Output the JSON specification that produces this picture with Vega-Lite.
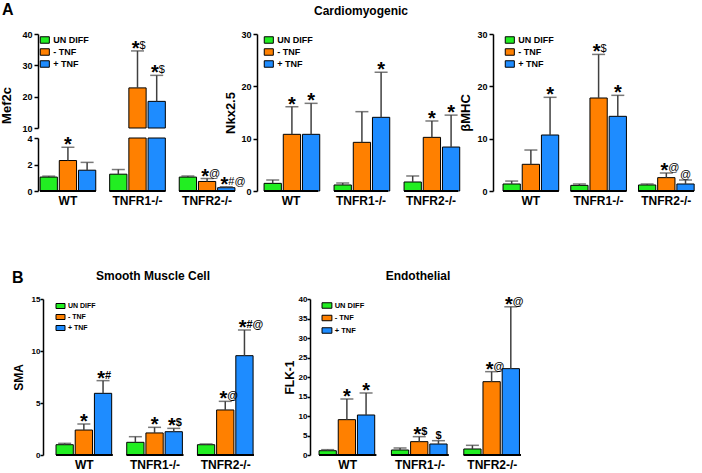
{
"$schema":"https://vega.github.io/schema/vega-lite/v6.json",
"padding":{"left":0,"top":1,"right":0,"bottom":0},
"config":{
 "font":"Liberation Sans",
 "view":{"stroke":null},
 "axis":{"grid":false,"labelFontWeight":"bold","labelColor":"black","titleFontWeight":"bold","titleColor":"black","domainColor":"black","tickColor":"black","labelFont":"Liberation Sans","titleFont":"Liberation Sans"},
 "axisY":{"domainWidth":1.5,"tickWidth":1.5,"tickSize":4,"labelPadding":2,"titlePadding":4,"labelFontSize":9,"titleFontSize":13,"labelOverlap":false},
 "axisX":{"domain":false,"ticks":false,"labelFontSize":12,"labelAngle":0,"labelPadding":4,"title":null},
 "legend":{"symbolType":"M-1.4,-1H1.4V1H-1.4Z","symbolStrokeColor":"black","symbolStrokeWidth":1,"symbolOpacity":1,"labelFontWeight":"bold","labelFont":"Liberation Sans","labelColor":"black","padding":0,"labelOffset":4},
 "title":{"fontWeight":"bold","fontSize":12,"color":"black","font":"Liberation Sans","baseline":"alphabetic"}
},
"datasets":{
 "mef2c":[
  {"group":"WT","cond":"UN DIFF","value":1.05,"err":1.12,"star":"","sym":""},
  {"group":"WT","cond":"- TNF","value":2.3,"err":3.3,"star":"*","sym":""},
  {"group":"WT","cond":"+ TNF","value":1.57,"err":2.16,"star":"","sym":""},
  {"group":"TNFR1-/-","cond":"UN DIFF","value":1.27,"err":1.62,"star":"","sym":""},
  {"group":"TNFR1-/-","cond":"- TNF","value":22.8,"err":34.6,"star":"*","sym":"$"},
  {"group":"TNFR1-/-","cond":"+ TNF","value":18.5,"err":26.8,"star":"*","sym":"$"},
  {"group":"TNFR2-/-","cond":"UN DIFF","value":1.05,"err":1.13,"star":"","sym":""},
  {"group":"TNFR2-/-","cond":"- TNF","value":0.72,"err":0.94,"star":"*","sym":"@"},
  {"group":"TNFR2-/-","cond":"+ TNF","value":0.25,"err":0.32,"star":"*","sym":"#@"}
 ],
 "nkx":[
  {"group":"WT","cond":"UN DIFF","value":1.46,"err":2.1,"star":"","sym":""},
  {"group":"WT","cond":"- TNF","value":10.83,"err":16.1,"star":"*","sym":""},
  {"group":"WT","cond":"+ TNF","value":10.83,"err":16.75,"star":"*","sym":""},
  {"group":"TNFR1-/-","cond":"UN DIFF","value":1.15,"err":1.53,"star":"","sym":""},
  {"group":"TNFR1-/-","cond":"- TNF","value":9.3,"err":15.16,"star":"","sym":""},
  {"group":"TNFR1-/-","cond":"+ TNF","value":14.08,"err":22.7,"star":"*","sym":""},
  {"group":"TNFR2-/-","cond":"UN DIFF","value":1.72,"err":2.87,"star":"","sym":""},
  {"group":"TNFR2-/-","cond":"- TNF","value":10.25,"err":13.38,"star":"*","sym":""},
  {"group":"TNFR2-/-","cond":"+ TNF","value":8.4,"err":14.5,"star":"*","sym":""}
 ],
 "bmhc":[
  {"group":"WT","cond":"UN DIFF","value":1.34,"err":1.9,"star":"","sym":""},
  {"group":"WT","cond":"- TNF","value":5.1,"err":7.83,"star":"","sym":""},
  {"group":"WT","cond":"+ TNF","value":10.7,"err":17.9,"star":"*","sym":""},
  {"group":"TNFR1-/-","cond":"UN DIFF","value":1.08,"err":1.34,"star":"","sym":""},
  {"group":"TNFR1-/-","cond":"- TNF","value":17.77,"err":26.1,"star":"*","sym":"$"},
  {"group":"TNFR1-/-","cond":"+ TNF","value":14.27,"err":18.28,"star":"*","sym":""},
  {"group":"TNFR2-/-","cond":"UN DIFF","value":1.15,"err":1.34,"star":"","sym":""},
  {"group":"TNFR2-/-","cond":"- TNF","value":2.55,"err":3.44,"star":"*","sym":"@"},
  {"group":"TNFR2-/-","cond":"+ TNF","value":1.34,"err":2.1,"star":"","sym":"@"}
 ],
 "sma":[
  {"group":"WT","cond":"UN DIFF","value":0.99,"err":1.12,"star":"","sym":""},
  {"group":"WT","cond":"- TNF","value":2.4,"err":2.98,"star":"*","sym":""},
  {"group":"WT","cond":"+ TNF","value":5.93,"err":7.15,"star":"*","sym":"#"},
  {"group":"TNFR1-/-","cond":"UN DIFF","value":1.22,"err":1.76,"star":"","sym":""},
  {"group":"TNFR1-/-","cond":"- TNF","value":2.12,"err":2.66,"star":"*","sym":""},
  {"group":"TNFR1-/-","cond":"+ TNF","value":2.24,"err":2.56,"star":"*","sym":"$"},
  {"group":"TNFR2-/-","cond":"UN DIFF","value":0.99,"err":1.06,"star":"","sym":""},
  {"group":"TNFR2-/-","cond":"- TNF","value":4.33,"err":5.16,"star":"*","sym":"@"},
  {"group":"TNFR2-/-","cond":"+ TNF","value":9.55,"err":12.02,"star":"*","sym":"#@"}
 ],
 "flk":[
  {"group":"WT","cond":"UN DIFF","value":1.1,"err":1.37,"star":"","sym":""},
  {"group":"WT","cond":"- TNF","value":9.06,"err":14.36,"star":"*","sym":""},
  {"group":"WT","cond":"+ TNF","value":10.26,"err":15.9,"star":"*","sym":""},
  {"group":"TNFR1-/-","cond":"UN DIFF","value":1.28,"err":1.8,"star":"","sym":""},
  {"group":"TNFR1-/-","cond":"- TNF","value":3.42,"err":4.7,"star":"*","sym":"$"},
  {"group":"TNFR1-/-","cond":"+ TNF","value":2.82,"err":3.67,"star":"","sym":"$"},
  {"group":"TNFR2-/-","cond":"UN DIFF","value":1.54,"err":2.48,"star":"","sym":""},
  {"group":"TNFR2-/-","cond":"- TNF","value":18.8,"err":21.37,"star":"*","sym":"@"},
  {"group":"TNFR2-/-","cond":"+ TNF","value":22.14,"err":38.0,"star":"*","sym":"@"}
 ]
},
"spacing":63,
"resolve":{"scale":{"color":"independent"},"legend":{"color":"independent"}},
"vconcat":[
{
 "bounds":"flush",
 "spacing":20,
 "resolve":{"scale":{"color":"independent"},"legend":{"color":"independent"}},
 "hconcat":[
 {
  "width":199,"height":157,
  "title":{"text":"A","anchor":"start","frame":"bounds","fontSize":16,"offset":12.5,"dx":1},
  "data":{"name":"mef2c"},
  "resolve":{"scale":{"y":"independent"},"axis":{"y":"independent"}},
  "layer":[
   {"layer":[
     {"mark":{"type":"bar","stroke":"black","strokeWidth":1},
      "encoding":{
       "x":{"field":"group","type":"nominal","sort":null,"title":null,"scale":{"domain":["WT","TNFR1-/-","TNFR2-/-"],"paddingInner":0.2,"paddingOuter":0.03,"align":0.5}},
       "xOffset":{"field":"cond","type":"nominal","scale":{"domain":["UN DIFF","- TNF","+ TNF"],"paddingInner":0.1,"paddingOuter":0}},
       "y":{"field":"value","type":"quantitative","scale":{"domain":[0,4],"range":[157,104],"clamp":true,"nice":false},"axis":{"title":null,"values":[0,2,4],"orient":"left"}},
       "color":{"field":"cond","type":"nominal","scale":{"domain":["UN DIFF","- TNF","+ TNF"],"range":["#22EE22","#FF8000","#1E8CFF"]},"legend":{"orient":"none","legendX":2.3,"legendY":1.5,"title":null,"labelFontSize":9,"symbolSize":42,"rowPadding":1}}
      }},
     {"mark":{"type":"rect","fill":"transparent","stroke":"black","strokeWidth":1.5},
      "encoding":{
       "x":{"field":"group","type":"nominal","sort":null,"title":null,"scale":{"domain":["WT","TNFR1-/-","TNFR2-/-"],"paddingInner":0.2,"paddingOuter":0.03,"align":0.5}},
       "y":{"datum":0,"type":"quantitative"},
       "y2":{"datum":0}
      }},
     {"transform":[{"filter":"datum.value < 4"}],
      "mark":{"type":"rule","color":"#404040","strokeWidth":1.5},
      "encoding":{
       "x":{"field":"group","type":"nominal","sort":null,"title":null,"scale":{"domain":["WT","TNFR1-/-","TNFR2-/-"],"paddingInner":0.2,"paddingOuter":0.03,"align":0.5}},
       "xOffset":{"field":"cond","type":"nominal","scale":{"domain":["UN DIFF","- TNF","+ TNF"],"paddingInner":0.1,"paddingOuter":0}},
       "y":{"field":"value","type":"quantitative"},
       "y2":{"field":"err"}
      }},
     {"transform":[{"filter":"datum.value < 4"}],
      "mark":{"type":"tick","color":"#404040","thickness":1.5,"size":13,"orient":"horizontal"},
      "encoding":{
       "x":{"field":"group","type":"nominal","sort":null,"title":null,"scale":{"domain":["WT","TNFR1-/-","TNFR2-/-"],"paddingInner":0.2,"paddingOuter":0.03,"align":0.5}},
       "xOffset":{"field":"cond","type":"nominal","scale":{"domain":["UN DIFF","- TNF","+ TNF"],"paddingInner":0.1,"paddingOuter":0}},
       "y":{"field":"err","type":"quantitative","title":null}
      }},
     {"transform":[{"filter":"datum.value < 4 && datum.star != '' && datum.sym == ''"}],
      "mark":{"type":"text","fontSize":20,"fontWeight":"bold","baseline":"alphabetic","align":"center","dy":4,"color":"black"},
      "encoding":{
       "x":{"field":"group","type":"nominal","sort":null,"title":null,"scale":{"domain":["WT","TNFR1-/-","TNFR2-/-"],"paddingInner":0.2,"paddingOuter":0.03,"align":0.5}},
       "xOffset":{"field":"cond","type":"nominal","scale":{"domain":["UN DIFF","- TNF","+ TNF"],"paddingInner":0.1,"paddingOuter":0}},
       "y":{"field":"err","type":"quantitative","title":null},
       "text":{"field":"star"}
      }},
     {"transform":[{"filter":"datum.value < 4 && datum.star != '' && datum.sym != ''"}],
      "mark":{"type":"text","fontSize":20,"fontWeight":"bold","baseline":"alphabetic","align":"right","dx":2,"dy":4,"color":"black"},
      "encoding":{
       "x":{"field":"group","type":"nominal","sort":null,"title":null,"scale":{"domain":["WT","TNFR1-/-","TNFR2-/-"],"paddingInner":0.2,"paddingOuter":0.03,"align":0.5}},
       "xOffset":{"field":"cond","type":"nominal","scale":{"domain":["UN DIFF","- TNF","+ TNF"],"paddingInner":0.1,"paddingOuter":0}},
       "y":{"field":"err","type":"quantitative","title":null},
       "text":{"field":"star"}
      }},
     {"transform":[{"filter":"datum.value < 4 && datum.star != '' && datum.sym != ''"}],
      "mark":{"type":"text","fontSize":11,"baseline":"alphabetic","align":"left","dx":2,"dy":-2,"color":"black"},
      "encoding":{
       "x":{"field":"group","type":"nominal","sort":null,"title":null,"scale":{"domain":["WT","TNFR1-/-","TNFR2-/-"],"paddingInner":0.2,"paddingOuter":0.03,"align":0.5}},
       "xOffset":{"field":"cond","type":"nominal","scale":{"domain":["UN DIFF","- TNF","+ TNF"],"paddingInner":0.1,"paddingOuter":0}},
       "y":{"field":"err","type":"quantitative","title":null},
       "text":{"field":"sym"}
      }}
   ]},
   {"transform":[{"filter":"datum.value > 10"}],
    "layer":[
     {"mark":{"type":"bar","stroke":"black","strokeWidth":1},
      "encoding":{
       "x":{"field":"group","type":"nominal","sort":null,"title":null,"scale":{"domain":["WT","TNFR1-/-","TNFR2-/-"],"paddingInner":0.2,"paddingOuter":0.03,"align":0.5}},
       "xOffset":{"field":"cond","type":"nominal","scale":{"domain":["UN DIFF","- TNF","+ TNF"],"paddingInner":0.1,"paddingOuter":0}},
       "y":{"field":"value","type":"quantitative","scale":{"domain":[10,40],"range":[94,0],"clamp":true,"nice":false,"zero":false},"axis":{"title":"Mef2c","values":[10,20,30,40],"orient":"left","titleY":71,"titlePadding":8}},
       "y2":{"datum":0},
       "color":{"field":"cond","type":"nominal","scale":{"domain":["UN DIFF","- TNF","+ TNF"],"range":["#22EE22","#FF8000","#1E8CFF"]},"legend":{"orient":"none","legendX":2.3,"legendY":1.5,"title":null,"labelFontSize":9,"symbolSize":42,"rowPadding":1}}
      }},
     {"mark":{"type":"rule","color":"#404040","strokeWidth":1.5},
      "encoding":{
       "x":{"field":"group","type":"nominal","sort":null,"title":null,"scale":{"domain":["WT","TNFR1-/-","TNFR2-/-"],"paddingInner":0.2,"paddingOuter":0.03,"align":0.5}},
       "xOffset":{"field":"cond","type":"nominal","scale":{"domain":["UN DIFF","- TNF","+ TNF"],"paddingInner":0.1,"paddingOuter":0}},
       "y":{"field":"value","type":"quantitative"},
       "y2":{"field":"err"}
      }},
     {"mark":{"type":"tick","color":"#404040","thickness":1.5,"size":13,"orient":"horizontal"},
      "encoding":{
       "x":{"field":"group","type":"nominal","sort":null,"title":null,"scale":{"domain":["WT","TNFR1-/-","TNFR2-/-"],"paddingInner":0.2,"paddingOuter":0.03,"align":0.5}},
       "xOffset":{"field":"cond","type":"nominal","scale":{"domain":["UN DIFF","- TNF","+ TNF"],"paddingInner":0.1,"paddingOuter":0}},
       "y":{"field":"err","type":"quantitative","title":"Mef2c"}
      }},
     {"mark":{"type":"text","fontSize":20,"fontWeight":"bold","baseline":"alphabetic","align":"right","dx":2,"dy":4,"color":"black"},
      "encoding":{
       "x":{"field":"group","type":"nominal","sort":null,"title":null,"scale":{"domain":["WT","TNFR1-/-","TNFR2-/-"],"paddingInner":0.2,"paddingOuter":0.03,"align":0.5}},
       "xOffset":{"field":"cond","type":"nominal","scale":{"domain":["UN DIFF","- TNF","+ TNF"],"paddingInner":0.1,"paddingOuter":0}},
       "y":{"field":"err","type":"quantitative","title":"Mef2c"},
       "text":{"field":"star"}
      }},
     {"mark":{"type":"text","fontSize":11,"baseline":"alphabetic","align":"left","dx":2,"dy":-2,"color":"black"},
      "encoding":{
       "x":{"field":"group","type":"nominal","sort":null,"title":null,"scale":{"domain":["WT","TNFR1-/-","TNFR2-/-"],"paddingInner":0.2,"paddingOuter":0.03,"align":0.5}},
       "xOffset":{"field":"cond","type":"nominal","scale":{"domain":["UN DIFF","- TNF","+ TNF"],"paddingInner":0.1,"paddingOuter":0}},
       "y":{"field":"err","type":"quantitative","title":"Mef2c"},
       "text":{"field":"sym"}
      }}
   ]}
  ]
 },
 {
  "width":216,"height":157,
  "title":{"text":"Cardiomyogenic","frame":"group","offset":12.5,"dx":-4},
  "data":{"name":"nkx"},
  "layer":[
   {"mark":{"type":"bar","stroke":"black","strokeWidth":1},
    "encoding":{
     "x":{"field":"group","type":"nominal","sort":null,"title":null,"scale":{"domain":["WT","TNFR1-/-","TNFR2-/-"],"paddingInner":0.23,"paddingOuter":0.158,"align":0.32}},
     "xOffset":{"field":"cond","type":"nominal","scale":{"domain":["UN DIFF","- TNF","+ TNF"],"paddingInner":0.1,"paddingOuter":0}},
     "y":{"field":"value","type":"quantitative","scale":{"domain":[0,30],"nice":false},"axis":{"title":"Nkx2.5","values":[0,10,20,30],"titlePadding":3}},
     "color":{"field":"cond","type":"nominal","scale":{"domain":["UN DIFF","- TNF","+ TNF"],"range":["#22EE22","#FF8000","#1E8CFF"]},"legend":{"orient":"none","legendX":7.3,"legendY":1.5,"title":null,"labelFontSize":9,"symbolSize":42,"rowPadding":1}}
    }},
   {"mark":{"type":"rect","fill":"transparent","stroke":"black","strokeWidth":1.5},
    "encoding":{
     "x":{"field":"group","type":"nominal","sort":null,"title":null,"scale":{"domain":["WT","TNFR1-/-","TNFR2-/-"],"paddingInner":0.23,"paddingOuter":0.158,"align":0.32}},
     "y":{"datum":0,"type":"quantitative"},
     "y2":{"datum":0}
    }},
   {"mark":{"type":"rule","color":"#404040","strokeWidth":1.5},
    "encoding":{
     "x":{"field":"group","type":"nominal","sort":null,"title":null,"scale":{"domain":["WT","TNFR1-/-","TNFR2-/-"],"paddingInner":0.23,"paddingOuter":0.158,"align":0.32}},
     "xOffset":{"field":"cond","type":"nominal","scale":{"domain":["UN DIFF","- TNF","+ TNF"],"paddingInner":0.1,"paddingOuter":0}},
     "y":{"field":"value","type":"quantitative"},
     "y2":{"field":"err"}
    }},
   {"mark":{"type":"tick","color":"#404040","thickness":1.5,"size":13,"orient":"horizontal"},
    "encoding":{
     "x":{"field":"group","type":"nominal","sort":null,"title":null,"scale":{"domain":["WT","TNFR1-/-","TNFR2-/-"],"paddingInner":0.23,"paddingOuter":0.158,"align":0.32}},
     "xOffset":{"field":"cond","type":"nominal","scale":{"domain":["UN DIFF","- TNF","+ TNF"],"paddingInner":0.1,"paddingOuter":0}},
     "y":{"field":"err","type":"quantitative","title":"Nkx2.5"}
    }},
   {"transform":[{"filter":"datum.star != ''"}],
    "mark":{"type":"text","fontSize":20,"fontWeight":"bold","baseline":"alphabetic","align":"center","dy":4,"color":"black"},
    "encoding":{
     "x":{"field":"group","type":"nominal","sort":null,"title":null,"scale":{"domain":["WT","TNFR1-/-","TNFR2-/-"],"paddingInner":0.23,"paddingOuter":0.158,"align":0.32}},
     "xOffset":{"field":"cond","type":"nominal","scale":{"domain":["UN DIFF","- TNF","+ TNF"],"paddingInner":0.1,"paddingOuter":0}},
     "y":{"field":"err","type":"quantitative","title":"Nkx2.5"},
     "text":{"field":"star"}
    }}
  ]
 },
 {
  "width":208,"height":157,
  "data":{"name":"bmhc"},
  "layer":[
   {"mark":{"type":"bar","stroke":"black","strokeWidth":1},
    "encoding":{
     "x":{"field":"group","type":"nominal","sort":null,"title":null,"scale":{"domain":["WT","TNFR1-/-","TNFR2-/-"],"paddingInner":0.18,"paddingOuter":0.1256,"align":0.59}},
     "xOffset":{"field":"cond","type":"nominal","scale":{"domain":["UN DIFF","- TNF","+ TNF"],"paddingInner":0.1,"paddingOuter":0}},
     "y":{"field":"value","type":"quantitative","scale":{"domain":[0,30],"nice":false},"axis":{"title":"βMHC","values":[0,10,20,30],"titlePadding":4}},
     "color":{"field":"cond","type":"nominal","scale":{"domain":["UN DIFF","- TNF","+ TNF"],"range":["#22EE22","#FF8000","#1E8CFF"]},"legend":{"orient":"none","legendX":12.3,"legendY":1.5,"title":null,"labelFontSize":9,"symbolSize":42,"rowPadding":1}}
    }},
   {"mark":{"type":"rect","fill":"transparent","stroke":"black","strokeWidth":1.5},
    "encoding":{
     "x":{"field":"group","type":"nominal","sort":null,"title":null,"scale":{"domain":["WT","TNFR1-/-","TNFR2-/-"],"paddingInner":0.18,"paddingOuter":0.1256,"align":0.59}},
     "y":{"datum":0,"type":"quantitative"},
     "y2":{"datum":0}
    }},
   {"mark":{"type":"rule","color":"#404040","strokeWidth":1.5},
    "encoding":{
     "x":{"field":"group","type":"nominal","sort":null,"title":null,"scale":{"domain":["WT","TNFR1-/-","TNFR2-/-"],"paddingInner":0.18,"paddingOuter":0.1256,"align":0.59}},
     "xOffset":{"field":"cond","type":"nominal","scale":{"domain":["UN DIFF","- TNF","+ TNF"],"paddingInner":0.1,"paddingOuter":0}},
     "y":{"field":"value","type":"quantitative"},
     "y2":{"field":"err"}
    }},
   {"mark":{"type":"tick","color":"#404040","thickness":1.5,"size":13,"orient":"horizontal"},
    "encoding":{
     "x":{"field":"group","type":"nominal","sort":null,"title":null,"scale":{"domain":["WT","TNFR1-/-","TNFR2-/-"],"paddingInner":0.18,"paddingOuter":0.1256,"align":0.59}},
     "xOffset":{"field":"cond","type":"nominal","scale":{"domain":["UN DIFF","- TNF","+ TNF"],"paddingInner":0.1,"paddingOuter":0}},
     "y":{"field":"err","type":"quantitative","title":"βMHC"}
    }},
   {"transform":[{"filter":"datum.star != '' && datum.sym == ''"}],
    "mark":{"type":"text","fontSize":20,"fontWeight":"bold","baseline":"alphabetic","align":"center","dy":4,"color":"black"},
    "encoding":{
     "x":{"field":"group","type":"nominal","sort":null,"title":null,"scale":{"domain":["WT","TNFR1-/-","TNFR2-/-"],"paddingInner":0.18,"paddingOuter":0.1256,"align":0.59}},
     "xOffset":{"field":"cond","type":"nominal","scale":{"domain":["UN DIFF","- TNF","+ TNF"],"paddingInner":0.1,"paddingOuter":0}},
     "y":{"field":"err","type":"quantitative","title":"βMHC"},
     "text":{"field":"star"}
    }},
   {"transform":[{"filter":"datum.star != '' && datum.sym != ''"}],
    "mark":{"type":"text","fontSize":20,"fontWeight":"bold","baseline":"alphabetic","align":"right","dx":2,"dy":4,"color":"black"},
    "encoding":{
     "x":{"field":"group","type":"nominal","sort":null,"title":null,"scale":{"domain":["WT","TNFR1-/-","TNFR2-/-"],"paddingInner":0.18,"paddingOuter":0.1256,"align":0.59}},
     "xOffset":{"field":"cond","type":"nominal","scale":{"domain":["UN DIFF","- TNF","+ TNF"],"paddingInner":0.1,"paddingOuter":0}},
     "y":{"field":"err","type":"quantitative","title":"βMHC"},
     "text":{"field":"star"}
    }},
   {"transform":[{"filter":"datum.star != '' && datum.sym != ''"}],
    "mark":{"type":"text","fontSize":11,"baseline":"alphabetic","align":"left","dx":2,"dy":-2,"color":"black"},
    "encoding":{
     "x":{"field":"group","type":"nominal","sort":null,"title":null,"scale":{"domain":["WT","TNFR1-/-","TNFR2-/-"],"paddingInner":0.18,"paddingOuter":0.1256,"align":0.59}},
     "xOffset":{"field":"cond","type":"nominal","scale":{"domain":["UN DIFF","- TNF","+ TNF"],"paddingInner":0.1,"paddingOuter":0}},
     "y":{"field":"err","type":"quantitative","title":"βMHC"},
     "text":{"field":"sym"}
    }},
   {"transform":[{"filter":"datum.star == '' && datum.sym != ''"}],
    "mark":{"type":"text","fontSize":11,"baseline":"alphabetic","align":"center","dy":-2,"color":"black"},
    "encoding":{
     "x":{"field":"group","type":"nominal","sort":null,"title":null,"scale":{"domain":["WT","TNFR1-/-","TNFR2-/-"],"paddingInner":0.18,"paddingOuter":0.1256,"align":0.59}},
     "xOffset":{"field":"cond","type":"nominal","scale":{"domain":["UN DIFF","- TNF","+ TNF"],"paddingInner":0.1,"paddingOuter":0}},
     "y":{"field":"err","type":"quantitative","title":"βMHC"},
     "text":{"field":"sym"}
    }}
  ]
 }
 ]
},
{
 "title":{"text":"B","anchor":"start","frame":"bounds","fontSize":16,"offset":-16},
 "bounds":"flush",
 "spacing":49,
 "resolve":{"scale":{"color":"independent"},"legend":{"color":"independent"}},
 "hconcat":[
 {
  "width":223,"height":156,
  "title":{"text":"Smooth Muscle Cell","frame":"group","offset":12,"dx":3.5},
  "data":{"name":"sma"},
  "layer":[
   {"mark":{"type":"bar","stroke":"black","strokeWidth":1},
    "encoding":{
     "x":{"field":"group","type":"nominal","sort":null,"title":null,"scale":{"domain":["WT","TNFR1-/-","TNFR2-/-"],"paddingInner":0.2,"paddingOuter":0.177,"align":0.72}},
     "xOffset":{"field":"cond","type":"nominal","scale":{"domain":["UN DIFF","- TNF","+ TNF"],"paddingInner":0.1,"paddingOuter":0}},
     "y":{"field":"value","type":"quantitative","scale":{"domain":[0,15],"nice":false},"axis":{"title":"SMA","values":[0,5,10,15],"offset":-5,"labelFontSize":8,"titleFontSize":12,"titlePadding":6,"tickSize":3,"labelPadding":0}},
     "color":{"field":"cond","type":"nominal","scale":{"domain":["UN DIFF","- TNF","+ TNF"],"range":["#22EE22","#FF8000","#1E8CFF"]},"legend":{"orient":"none","legendX":19,"legendY":3.5,"title":null,"labelFontSize":7,"symbolSize":25,"symbolType":"M-1.8,-1H1.8V1H-1.8Z","rowPadding":2}}
    }},
   {"mark":{"type":"rect","fill":"transparent","stroke":"black","strokeWidth":1.5},
    "encoding":{
     "x":{"field":"group","type":"nominal","sort":null,"title":null,"scale":{"domain":["WT","TNFR1-/-","TNFR2-/-"],"paddingInner":0.2,"paddingOuter":0.177,"align":0.72}},
     "y":{"datum":0,"type":"quantitative"},
     "y2":{"datum":0}
    }},
   {"mark":{"type":"rule","color":"#404040","strokeWidth":1.5},
    "encoding":{
     "x":{"field":"group","type":"nominal","sort":null,"title":null,"scale":{"domain":["WT","TNFR1-/-","TNFR2-/-"],"paddingInner":0.2,"paddingOuter":0.177,"align":0.72}},
     "xOffset":{"field":"cond","type":"nominal","scale":{"domain":["UN DIFF","- TNF","+ TNF"],"paddingInner":0.1,"paddingOuter":0}},
     "y":{"field":"value","type":"quantitative"},
     "y2":{"field":"err"}
    }},
   {"mark":{"type":"tick","color":"#404040","thickness":1.5,"size":13,"orient":"horizontal"},
    "encoding":{
     "x":{"field":"group","type":"nominal","sort":null,"title":null,"scale":{"domain":["WT","TNFR1-/-","TNFR2-/-"],"paddingInner":0.2,"paddingOuter":0.177,"align":0.72}},
     "xOffset":{"field":"cond","type":"nominal","scale":{"domain":["UN DIFF","- TNF","+ TNF"],"paddingInner":0.1,"paddingOuter":0}},
     "y":{"field":"err","type":"quantitative","title":"SMA"}
    }},
   {"transform":[{"filter":"datum.star != '' && datum.sym == ''"}],
    "mark":{"type":"text","fontSize":20,"fontWeight":"bold","baseline":"alphabetic","align":"center","dy":4,"color":"black"},
    "encoding":{
     "x":{"field":"group","type":"nominal","sort":null,"title":null,"scale":{"domain":["WT","TNFR1-/-","TNFR2-/-"],"paddingInner":0.2,"paddingOuter":0.177,"align":0.72}},
     "xOffset":{"field":"cond","type":"nominal","scale":{"domain":["UN DIFF","- TNF","+ TNF"],"paddingInner":0.1,"paddingOuter":0}},
     "y":{"field":"err","type":"quantitative","title":"SMA"},
     "text":{"field":"star"}
    }},
   {"transform":[{"filter":"datum.star != '' && datum.sym != ''"}],
    "mark":{"type":"text","fontSize":20,"fontWeight":"bold","baseline":"alphabetic","align":"right","dx":2,"dy":4,"color":"black"},
    "encoding":{
     "x":{"field":"group","type":"nominal","sort":null,"title":null,"scale":{"domain":["WT","TNFR1-/-","TNFR2-/-"],"paddingInner":0.2,"paddingOuter":0.177,"align":0.72}},
     "xOffset":{"field":"cond","type":"nominal","scale":{"domain":["UN DIFF","- TNF","+ TNF"],"paddingInner":0.1,"paddingOuter":0}},
     "y":{"field":"err","type":"quantitative","title":"SMA"},
     "text":{"field":"star"}
    }},
   {"transform":[{"filter":"datum.star != '' && datum.sym != ''"}],
    "mark":{"type":"text","fontSize":11,"fontWeight":"bold","baseline":"alphabetic","align":"left","dx":2,"dy":-2,"color":"black"},
    "encoding":{
     "x":{"field":"group","type":"nominal","sort":null,"title":null,"scale":{"domain":["WT","TNFR1-/-","TNFR2-/-"],"paddingInner":0.2,"paddingOuter":0.177,"align":0.72}},
     "xOffset":{"field":"cond","type":"nominal","scale":{"domain":["UN DIFF","- TNF","+ TNF"],"paddingInner":0.1,"paddingOuter":0}},
     "y":{"field":"err","type":"quantitative","title":"SMA"},
     "text":{"field":"sym"}
    }}
  ]
 },
 {
  "width":220,"height":156,
  "title":{"text":"Endothelial","frame":"group","offset":12,"dx":-2},
  "data":{"name":"flk"},
  "layer":[
   {"mark":{"type":"bar","stroke":"black","strokeWidth":1},
    "encoding":{
     "x":{"field":"group","type":"nominal","sort":null,"title":null,"scale":{"domain":["WT","TNFR1-/-","TNFR2-/-"],"paddingInner":0.21,"paddingOuter":0.125,"align":0.5}},
     "xOffset":{"field":"cond","type":"nominal","scale":{"domain":["UN DIFF","- TNF","+ TNF"],"paddingInner":0.1,"paddingOuter":0}},
     "y":{"field":"value","type":"quantitative","scale":{"domain":[0,40],"nice":false},"axis":{"title":"FLK-1","values":[0,5,10,15,20,25,30,35,40],"tickCount":9,"labelOverlap":false,"labelFontSize":8,"titleFontSize":12,"titlePadding":2,"tickSize":3,"labelPadding":0}},
     "color":{"field":"cond","type":"nominal","scale":{"domain":["UN DIFF","- TNF","+ TNF"],"range":["#22EE22","#FF8000","#1E8CFF"]},"legend":{"orient":"none","legendX":13.2,"legendY":2.75,"title":null,"labelFontSize":7.5,"symbolSize":30,"symbolType":"M-1.8,-1H1.8V1H-1.8Z","rowPadding":2.5}}
    }},
   {"mark":{"type":"rect","fill":"transparent","stroke":"black","strokeWidth":1.5},
    "encoding":{
     "x":{"field":"group","type":"nominal","sort":null,"title":null,"scale":{"domain":["WT","TNFR1-/-","TNFR2-/-"],"paddingInner":0.21,"paddingOuter":0.125,"align":0.5}},
     "y":{"datum":0,"type":"quantitative","axis":{"title":"FLK-1","values":[0,5,10,15,20,25,30,35,40],"tickCount":9,"labelOverlap":false,"labelFontSize":8,"titleFontSize":12,"titlePadding":2,"tickSize":3,"labelPadding":0}},
     "y2":{"datum":0}
    }},
   {"mark":{"type":"rule","color":"#404040","strokeWidth":1.5},
    "encoding":{
     "x":{"field":"group","type":"nominal","sort":null,"title":null,"scale":{"domain":["WT","TNFR1-/-","TNFR2-/-"],"paddingInner":0.21,"paddingOuter":0.125,"align":0.5}},
     "xOffset":{"field":"cond","type":"nominal","scale":{"domain":["UN DIFF","- TNF","+ TNF"],"paddingInner":0.1,"paddingOuter":0}},
     "y":{"field":"value","type":"quantitative","axis":{"title":"FLK-1","values":[0,5,10,15,20,25,30,35,40],"tickCount":9,"labelOverlap":false,"labelFontSize":8,"titleFontSize":12,"titlePadding":2,"tickSize":3,"labelPadding":0}},
     "y2":{"field":"err"}
    }},
   {"mark":{"type":"tick","color":"#404040","thickness":1.5,"size":13,"orient":"horizontal"},
    "encoding":{
     "x":{"field":"group","type":"nominal","sort":null,"title":null,"scale":{"domain":["WT","TNFR1-/-","TNFR2-/-"],"paddingInner":0.21,"paddingOuter":0.125,"align":0.5}},
     "xOffset":{"field":"cond","type":"nominal","scale":{"domain":["UN DIFF","- TNF","+ TNF"],"paddingInner":0.1,"paddingOuter":0}},
     "y":{"field":"err","type":"quantitative","axis":{"title":"FLK-1","values":[0,5,10,15,20,25,30,35,40],"tickCount":9,"labelOverlap":false,"labelFontSize":8,"titleFontSize":12,"titlePadding":2,"tickSize":3,"labelPadding":0}}
    }},
   {"transform":[{"filter":"datum.star != '' && datum.sym == ''"}],
    "mark":{"type":"text","fontSize":20,"fontWeight":"bold","baseline":"alphabetic","align":"center","dy":4,"color":"black"},
    "encoding":{
     "x":{"field":"group","type":"nominal","sort":null,"title":null,"scale":{"domain":["WT","TNFR1-/-","TNFR2-/-"],"paddingInner":0.21,"paddingOuter":0.125,"align":0.5}},
     "xOffset":{"field":"cond","type":"nominal","scale":{"domain":["UN DIFF","- TNF","+ TNF"],"paddingInner":0.1,"paddingOuter":0}},
     "y":{"field":"err","type":"quantitative","axis":{"title":"FLK-1","values":[0,5,10,15,20,25,30,35,40],"tickCount":9,"labelOverlap":false,"labelFontSize":8,"titleFontSize":12,"titlePadding":2,"tickSize":3,"labelPadding":0}},
     "text":{"field":"star"}
    }},
   {"transform":[{"filter":"datum.star != '' && datum.sym != ''"}],
    "mark":{"type":"text","fontSize":20,"fontWeight":"bold","baseline":"alphabetic","align":"right","dx":2,"dy":4,"color":"black"},
    "encoding":{
     "x":{"field":"group","type":"nominal","sort":null,"title":null,"scale":{"domain":["WT","TNFR1-/-","TNFR2-/-"],"paddingInner":0.21,"paddingOuter":0.125,"align":0.5}},
     "xOffset":{"field":"cond","type":"nominal","scale":{"domain":["UN DIFF","- TNF","+ TNF"],"paddingInner":0.1,"paddingOuter":0}},
     "y":{"field":"err","type":"quantitative","axis":{"title":"FLK-1","values":[0,5,10,15,20,25,30,35,40],"tickCount":9,"labelOverlap":false,"labelFontSize":8,"titleFontSize":12,"titlePadding":2,"tickSize":3,"labelPadding":0}},
     "text":{"field":"star"}
    }},
   {"transform":[{"filter":"datum.star != '' && datum.sym != ''"}],
    "mark":{"type":"text","fontSize":11,"fontWeight":"bold","baseline":"alphabetic","align":"left","dx":2,"dy":-2,"color":"black"},
    "encoding":{
     "x":{"field":"group","type":"nominal","sort":null,"title":null,"scale":{"domain":["WT","TNFR1-/-","TNFR2-/-"],"paddingInner":0.21,"paddingOuter":0.125,"align":0.5}},
     "xOffset":{"field":"cond","type":"nominal","scale":{"domain":["UN DIFF","- TNF","+ TNF"],"paddingInner":0.1,"paddingOuter":0}},
     "y":{"field":"err","type":"quantitative","axis":{"title":"FLK-1","values":[0,5,10,15,20,25,30,35,40],"tickCount":9,"labelOverlap":false,"labelFontSize":8,"titleFontSize":12,"titlePadding":2,"tickSize":3,"labelPadding":0}},
     "text":{"field":"sym"}
    }},
   {"transform":[{"filter":"datum.star == '' && datum.sym != ''"}],
    "mark":{"type":"text","fontSize":11,"fontWeight":"bold","baseline":"alphabetic","align":"center","dy":-2,"color":"black"},
    "encoding":{
     "x":{"field":"group","type":"nominal","sort":null,"title":null,"scale":{"domain":["WT","TNFR1-/-","TNFR2-/-"],"paddingInner":0.21,"paddingOuter":0.125,"align":0.5}},
     "xOffset":{"field":"cond","type":"nominal","scale":{"domain":["UN DIFF","- TNF","+ TNF"],"paddingInner":0.1,"paddingOuter":0}},
     "y":{"field":"err","type":"quantitative","axis":{"title":"FLK-1","values":[0,5,10,15,20,25,30,35,40],"tickCount":9,"labelOverlap":false,"labelFontSize":8,"titleFontSize":12,"titlePadding":2,"tickSize":3,"labelPadding":0}},
     "text":{"field":"sym"}
    }}
  ]
 }
 ]
}
]
}
